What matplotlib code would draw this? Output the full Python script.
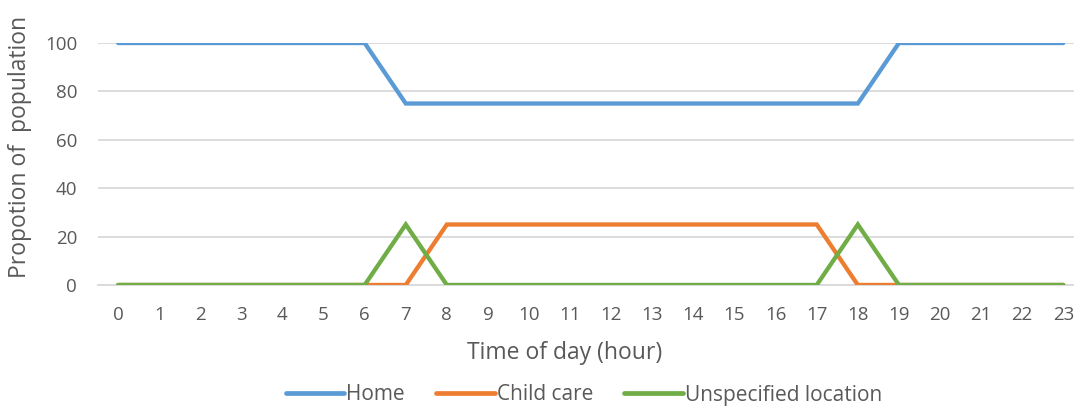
import matplotlib
matplotlib.use("Agg")
import matplotlib.pyplot as plt
from matplotlib.lines import Line2D

hours = list(range(24))
home = [100] * 7 + [75] * 12 + [100] * 5
child_care = [0] * 8 + [25] * 10 + [0] * 6
unspecified = [0] * 7 + [25] + [0] * 10 + [25] + [0] * 5

series_names = ["Home", "Child care", "Unspecified location"]
colors = ["#5B9BD5", "#ED7D31", "#70AD47"]
y_ticks = [0, 20, 40, 60, 80, 100]

plt.rcParams["font.family"] = ["Open Sans", "DejaVu Sans"]
text_color = "#595959"

fig = plt.figure(figsize=(10.74, 4.07), dpi=100)
ax = fig.add_axes([0.0912, 0.2998, 1 - 0.0912, 0.8943 - 0.2998])

for vals, col in zip([home, child_care, unspecified], colors):
    ax.plot(hours, vals, color=col, lw=3.1, solid_capstyle="round",
            solid_joinstyle="miter", zorder=3)

ax.set_xlim(-0.49, 23.26)
ax.set_ylim(0, 100)
ax.set_yticks(y_ticks)
ax.set_xticks(hours)
ax.set_xticklabels([str(h) for h in hours])
ax.yaxis.grid(True, color="#D9D9D9", lw=1.3, zorder=0)
ax.set_axisbelow(True)
for s in ["top", "right", "left"]:
    ax.spines[s].set_visible(False)
ax.spines["bottom"].set_color("#D9D9D9")
ax.spines["bottom"].set_linewidth(1.3)
ax.tick_params(axis="both", length=0, labelsize=13.5, labelcolor=text_color)
ax.tick_params(axis="x", pad=15)
ax.tick_params(axis="y", pad=15)

fig.text(565 / 1074, 1 - 353 / 407, "Time of day (hour)", ha="center", va="center",
         fontsize=16.5, color=text_color)
fig.text(20 / 1074, 1 - 147 / 407, "Propotion of  population", ha="center", va="center",
         rotation=90, fontsize=16.5, color=text_color)

handles = [Line2D([0], [0], color=c, lw=3.4, solid_capstyle="round") for c in colors]
fig.legend(handles, series_names, loc="center", bbox_to_anchor=(584 / 1074, 1 - 395 / 407),
           ncol=3, frameon=False, fontsize=15, labelcolor=text_color,
           handlelength=2.8, handletextpad=0.1, columnspacing=1.5)

fig.savefig("out.png", dpi=100)
